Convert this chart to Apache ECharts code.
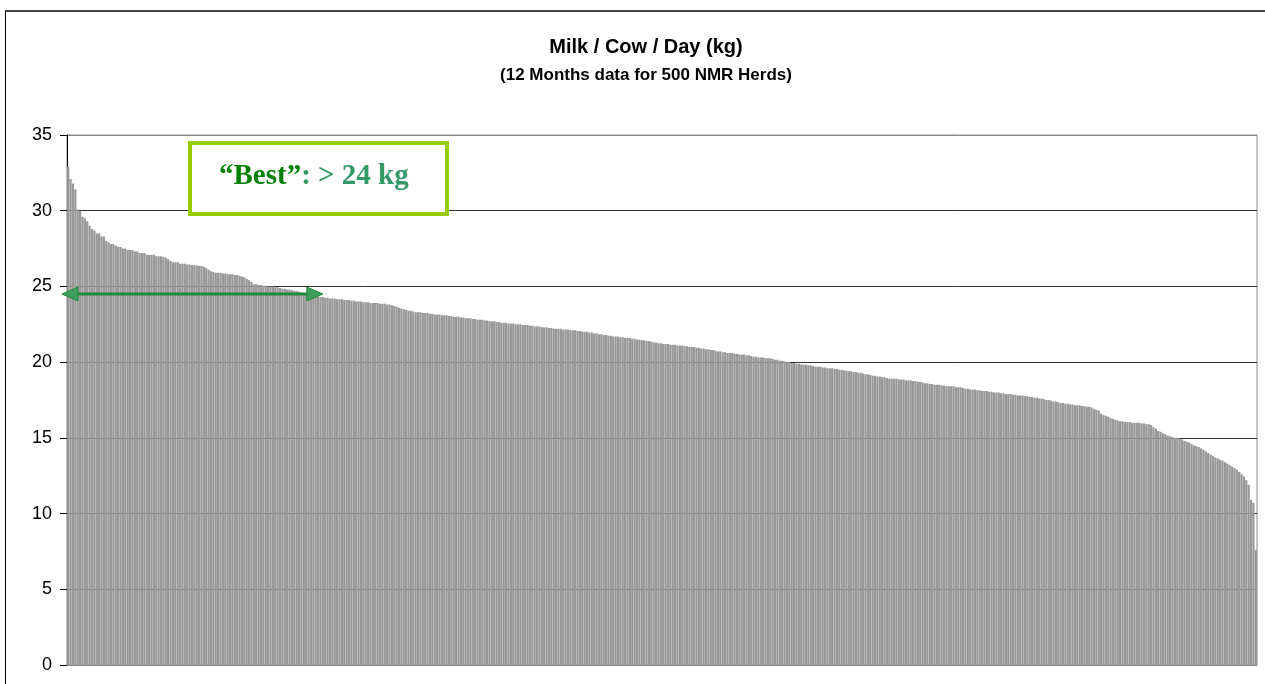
<!DOCTYPE html>
<html><head><meta charset="utf-8">
<script src="https://cdn.jsdelivr.net/npm/echarts@6/dist/echarts.min.js"></script>
<style>html,body{margin:0;padding:0;background:#fff}#c{width:1265px;height:684px}</style>
</head><body><div id="c"></div>
<script>
const titleText = 'Milk / Cow / Day (kg)';
const subtitleText = '(12 Months data for 500 NMR Herds)';
const yTicks = [0, 5, 10, 15, 20, 25, 30, 35];
const bestLabelA = '\u201cBest\u201d';
const bestLabelB = ': > 24 kg';
const bestThreshold = 24.5;
const milkPerCow = [
32.9,32.1,31.8,31.4,30.1,30.0,29.6,29.5,29.3,29.0,
28.8,28.7,28.5,28.5,28.3,28.3,28.0,27.9,27.8,27.8,
27.7,27.6,27.6,27.5,27.5,27.4,27.4,27.4,27.3,27.3,
27.2,27.2,27.2,27.1,27.1,27.1,27.1,27.0,27.0,27.0,
26.95,26.9,26.8,26.7,26.6,26.6,26.6,26.5,26.5,26.5,
26.45,26.45,26.4,26.4,26.4,26.35,26.35,26.3,26.2,26.1,
26.0,25.95,25.9,25.9,25.9,25.85,25.85,25.8,25.8,25.8,
25.75,25.75,25.7,25.65,25.6,25.5,25.4,25.3,25.15,25.15,
25.1,25.1,25.05,25.05,25.0,25.0,25.0,24.95,24.95,24.9,
24.85,24.85,24.8,24.8,24.75,24.7,24.7,24.65,24.6,24.55,
24.5,24.5,24.45,24.4,24.4,24.35,24.3,24.3,24.25,24.25,
24.2,24.2,24.2,24.15,24.15,24.15,24.1,24.1,24.1,24.05,
24.05,24.0,24.0,24.0,23.95,23.95,23.95,23.9,23.9,23.9,
23.9,23.85,23.85,23.85,23.8,23.8,23.75,23.7,23.65,23.6,
23.55,23.5,23.45,23.4,23.4,23.35,23.3,23.3,23.3,23.25,
23.25,23.25,23.2,23.2,23.15,23.15,23.15,23.1,23.1,23.1,
23.05,23.05,23.0,23.0,23.0,22.95,22.95,22.9,22.9,22.9,
22.85,22.85,22.8,22.8,22.8,22.75,22.75,22.7,22.7,22.7,
22.65,22.65,22.6,22.6,22.6,22.55,22.55,22.55,22.5,22.5,
22.5,22.45,22.45,22.45,22.4,22.4,22.35,22.35,22.35,22.3,
22.3,22.3,22.25,22.25,22.2,22.2,22.2,22.2,22.15,22.15,
22.15,22.1,22.1,22.1,22.05,22.05,22.0,22.0,22.0,21.95,
21.95,21.9,21.9,21.85,21.85,21.8,21.8,21.75,21.75,21.7,
21.7,21.7,21.65,21.65,21.6,21.6,21.6,21.55,21.55,21.5,
21.5,21.45,21.45,21.4,21.4,21.35,21.3,21.3,21.25,21.25,
21.2,21.2,21.2,21.15,21.15,21.15,21.1,21.1,21.1,21.05,
21.05,21.0,21.0,21.0,20.95,20.95,20.9,20.9,20.85,20.85,
20.8,20.8,20.75,20.7,20.7,20.65,20.65,20.6,20.6,20.6,
20.55,20.55,20.5,20.5,20.5,20.45,20.45,20.4,20.35,20.35,
20.3,20.3,20.3,20.25,20.25,20.25,20.2,20.15,20.15,20.1,
20.1,20.05,20.0,20.0,19.95,19.95,19.9,19.9,19.85,19.85,
19.85,19.8,19.8,19.75,19.7,19.7,19.7,19.65,19.65,19.6,
19.6,19.6,19.55,19.55,19.5,19.5,19.45,19.45,19.4,19.4,
19.35,19.35,19.3,19.3,19.25,19.2,19.2,19.15,19.1,19.1,
19.05,19.05,19.0,19.0,18.95,18.9,18.9,18.9,18.9,18.85,
18.85,18.85,18.8,18.8,18.8,18.75,18.75,18.7,18.7,18.65,
18.6,18.6,18.55,18.55,18.5,18.5,18.5,18.45,18.45,18.4,
18.4,18.4,18.4,18.35,18.35,18.35,18.3,18.25,18.25,18.2,
18.2,18.2,18.15,18.15,18.1,18.1,18.1,18.05,18.05,18.0,
18.0,18.0,17.95,17.95,17.9,17.9,17.9,17.85,17.85,17.8,
17.8,17.8,17.75,17.75,17.7,17.7,17.65,17.65,17.6,17.6,
17.55,17.5,17.5,17.45,17.4,17.4,17.35,17.3,17.3,17.25,
17.25,17.2,17.2,17.15,17.15,17.15,17.1,17.1,17.05,17.05,
17.0,16.9,16.85,16.8,16.6,16.5,16.45,16.4,16.3,16.25,
16.2,16.15,16.1,16.1,16.05,16.05,16.05,16.0,16.0,16.0,
16.0,15.95,15.95,15.9,15.9,15.85,15.7,15.6,15.45,15.4,
15.3,15.25,15.15,15.1,15.05,15.0,15.0,14.95,14.9,14.8,
14.75,14.7,14.6,14.5,14.45,14.4,14.3,14.2,14.1,14.0,
13.9,13.8,13.7,13.65,13.55,13.5,13.4,13.3,13.2,13.1,
13.0,12.9,12.75,12.6,12.45,12.2,11.9,10.9,10.7,7.6
];
const herds = milkPerCow.map((v, i) => 'Herd ' + (i + 1));

const chart = echarts.init(document.getElementById('c'), null, {renderer: 'canvas'});
const GRID = {left: 67, right: 8, top: 135, bottom: 19};
const option = {
  animation: false,
  backgroundColor: '#fff',
  title: {
    text: titleText, subtext: subtitleText, left: 641, textAlign: 'center', top: 32, itemGap: 10,
    textStyle: {fontFamily: 'Liberation Sans, Arial', fontWeight: 'bold', fontSize: 20, color: '#000'},
    subtextStyle: {fontFamily: 'Liberation Sans, Arial', fontWeight: 'bold', fontSize: 17, color: '#000'}
  },
  grid: {left: GRID.left, right: GRID.right, top: GRID.top, bottom: GRID.bottom, show: true, borderColor: '#888', borderWidth: 1},
  xAxis: {
    type: 'category', data: herds,
    axisLine: {show: true, lineStyle: {color: '#888', width: 1}},
    axisTick: {show: false}, axisLabel: {show: false}, splitLine: {show: false}
  },
  yAxis: {
    type: 'value', min: 0, max: 35, interval: 5,
    axisLine: {show: true, lineStyle: {color: '#000', width: 1}},
    axisTick: {show: true, length: 7, lineStyle: {color: '#000'}},
    axisLabel: {fontFamily: 'Liberation Sans, Arial', fontSize: 18, color: '#000', margin: 15},
    splitLine: {show: true, lineStyle: {color: ['#333','#333','#333','#333','#333','#333','#333','#888'], width: 1}}
  },
  series: [{
    type: 'bar', data: milkPerCow, barCategoryGap: '5%',
    itemStyle: {color: '#999999'}, silent: true
  }]
};
chart.setOption(option);

const yBest = chart.convertToPixel({yAxisIndex: 0}, bestThreshold);
const xEnd = chart.convertToPixel({xAxisIndex: 0}, herds[107]);
const xStart = 62;
const arrowColor = '#1f8a3a';
chart.setOption({
  graphic: [
    {type: 'line', shape: {x1: 5, y1: 11, x2: 1300, y2: 11}, style: {stroke: '#444', lineWidth: 2}, z: 100},
    {type: 'line', shape: {x1: 5.5, y1: 11, x2: 5.5, y2: 700}, style: {stroke: '#000', lineWidth: 1}, z: 100},
    {type: 'rect', shape: {x: 190, y: 143, width: 257, height: 71}, style: {fill: '#fff', stroke: '#99cc00', lineWidth: 4}, z: 100},
    {type: 'text', x: 219, y: 177, z: 101, style: {
      text: '{a|' + bestLabelA + '}{b|' + bestLabelB + '}', verticalAlign: 'middle',
      rich: {
        a: {fontFamily: 'Liberation Serif, Times New Roman', fontWeight: 'bold', fontSize: 29, fill: '#008000'},
        b: {fontFamily: 'Liberation Serif, Times New Roman', fontWeight: 'bold', fontSize: 29, fill: '#339966'}
      }
    }},
    {type: 'line', shape: {x1: xStart + 12, y1: yBest, x2: xEnd - 12, y2: yBest}, style: {stroke: arrowColor, lineWidth: 3}, z: 100},
    {type: 'polygon', shape: {points: [[xStart, yBest], [xStart + 16, yBest - 7], [xStart + 16, yBest + 7]]}, style: {fill: '#3d9e5e', stroke: arrowColor, lineWidth: 1}, z: 101},
    {type: 'polygon', shape: {points: [[xEnd, yBest], [xEnd - 16, yBest - 7], [xEnd - 16, yBest + 7]]}, style: {fill: '#3d9e5e', stroke: arrowColor, lineWidth: 1}, z: 101}
  ]
});
</script></body></html>
